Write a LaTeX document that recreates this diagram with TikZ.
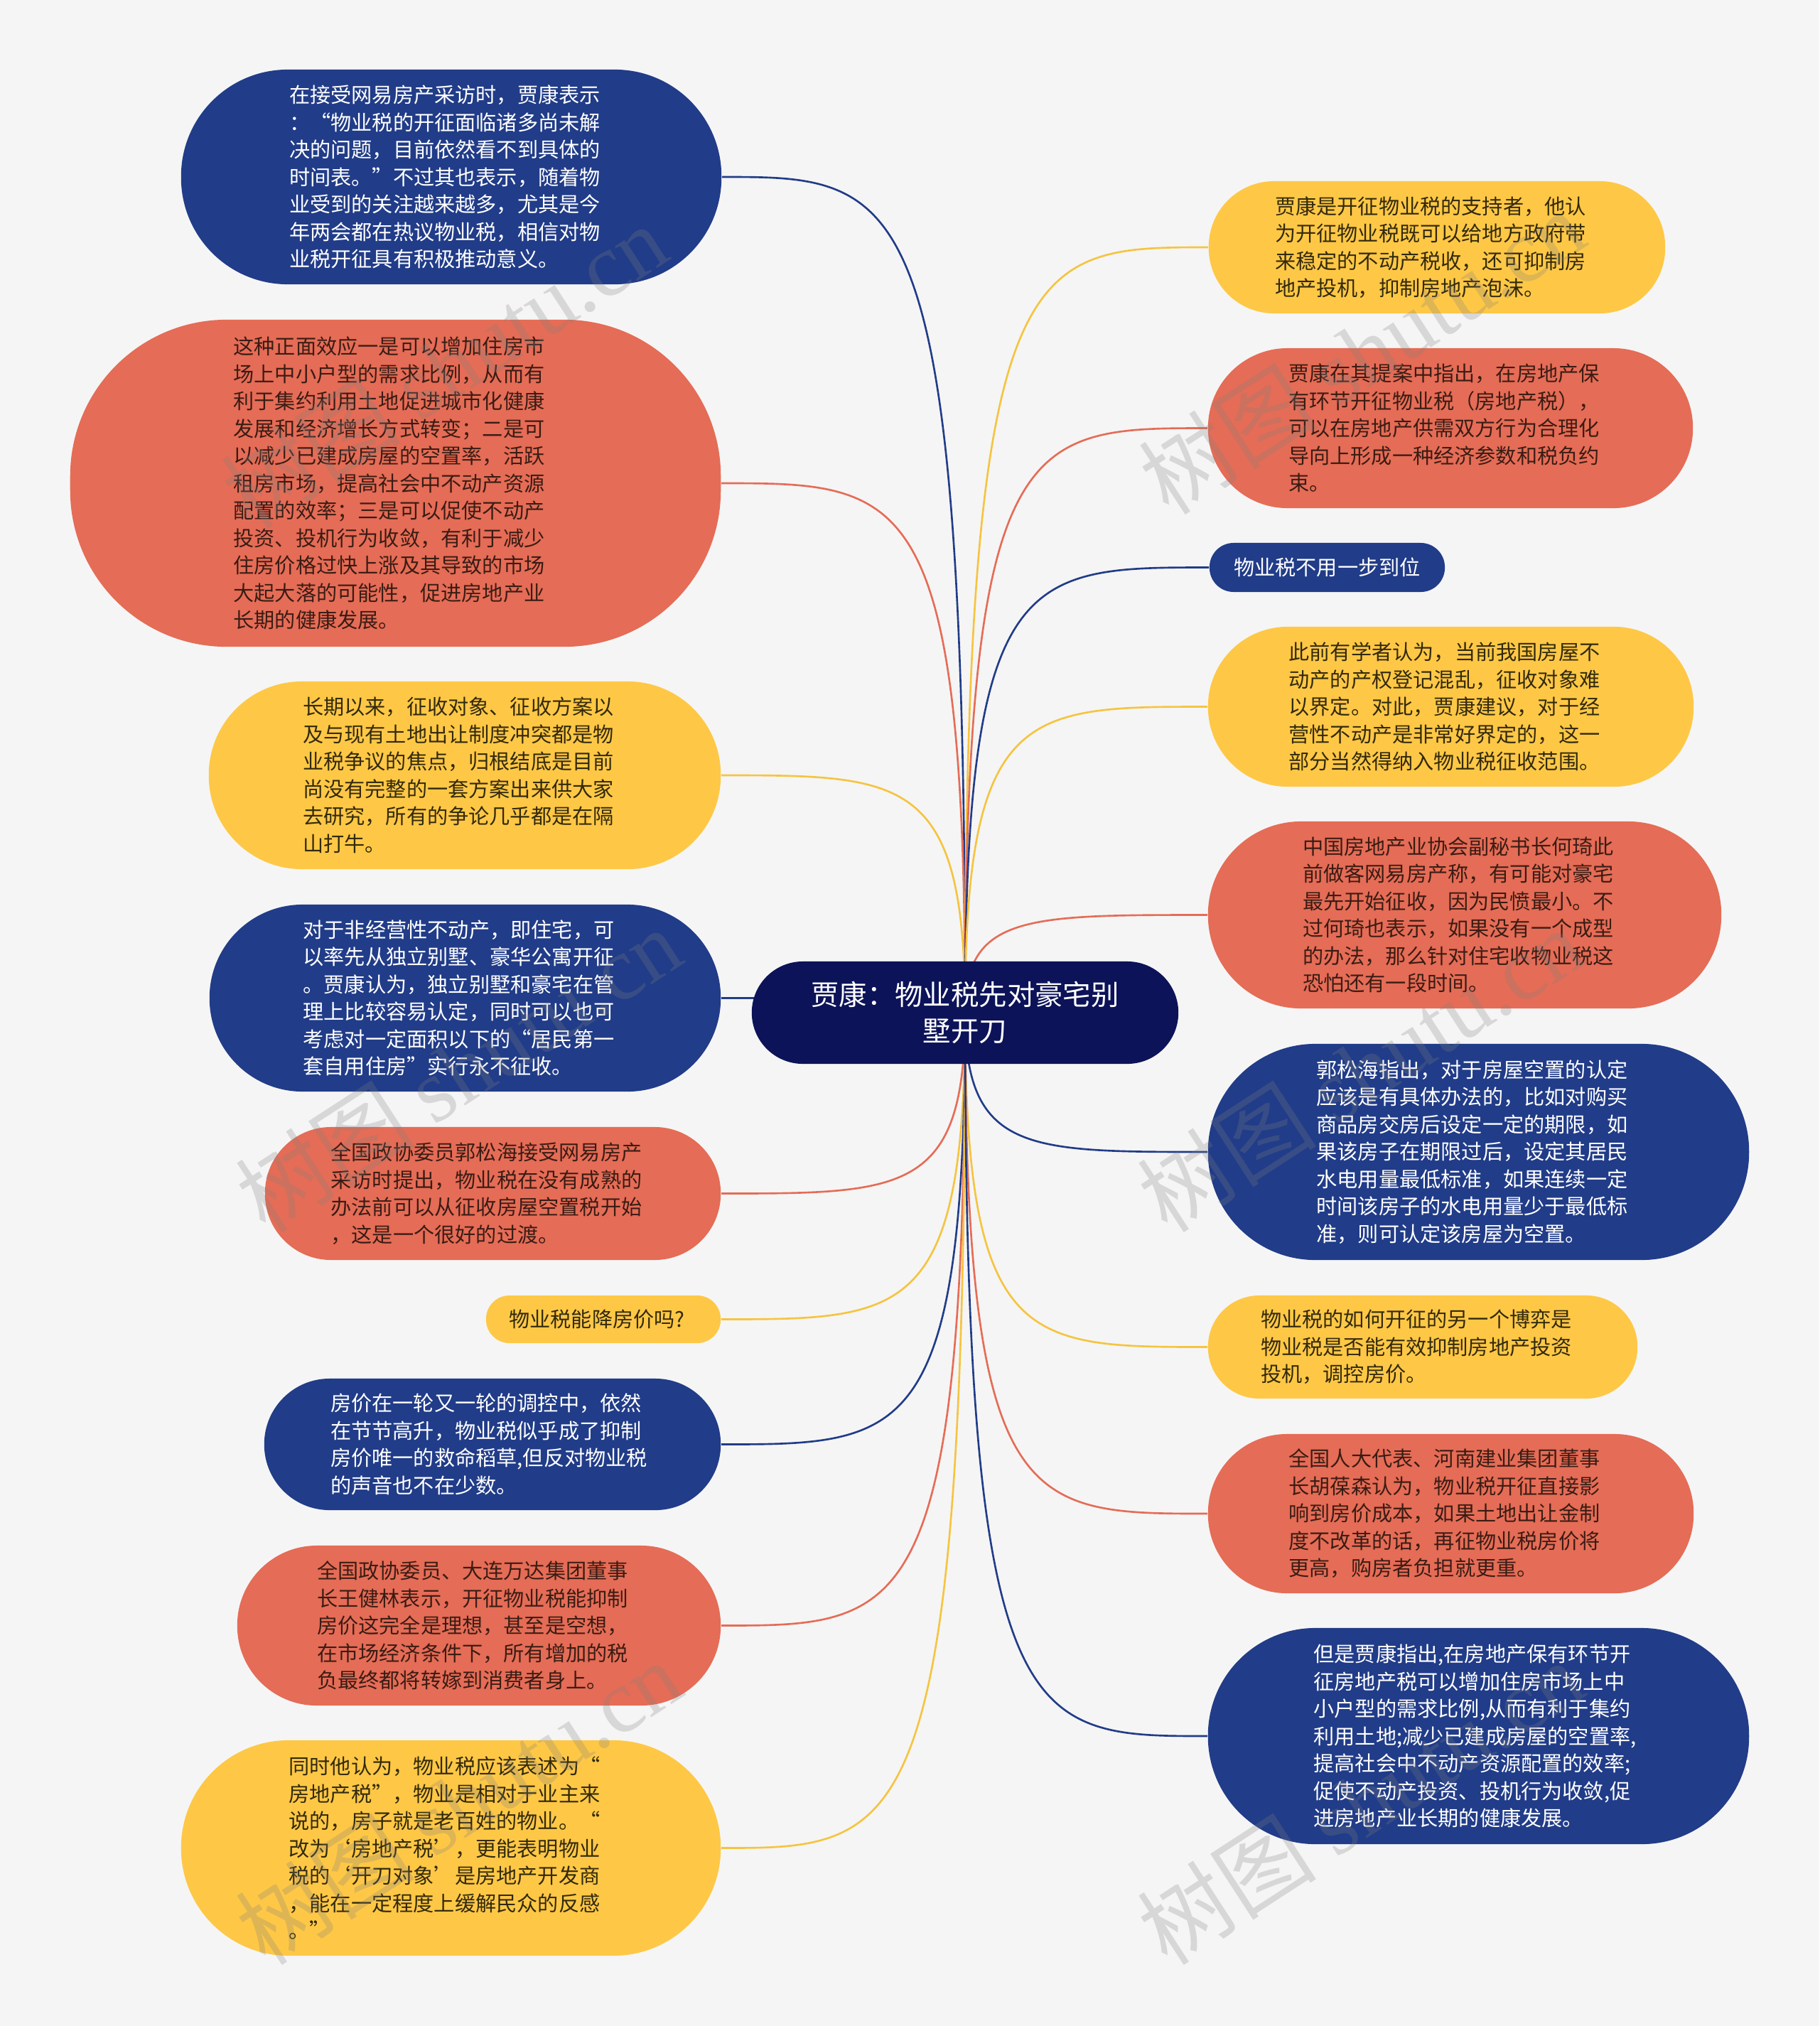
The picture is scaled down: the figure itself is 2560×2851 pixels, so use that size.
\documentclass[tikz,border=0pt]{standalone}
\usepackage{fontspec}
\setmainfont{Noto Sans CJK SC}
\newfontfamily\wmlatin{Liberation Serif}
\usetikzlibrary{calc}
\definecolor{cbg}{HTML}{F5F5F5}
\definecolor{cblue}{HTML}{213C88}
\definecolor{corange}{HTML}{E56C56}
\definecolor{cyellow}{HTML}{FEC846}
\definecolor{cnavy}{HTML}{0C1358}
\definecolor{torange}{HTML}{3A1C14}
\definecolor{tyellow}{HTML}{33290C}
\definecolor{lyellow}{HTML}{F5C440}
\pgfdeclarelayer{bg}\pgfdeclarelayer{fg}\pgfsetlayers{bg,main,fg}
\newcommand\bodyfont{\fontsize{8.3pt}{10.95pt}\selectfont}
\newcommand\ctrfont{\fontsize{11.2pt}{14.6pt}\selectfont}
\newcommand\wmfont{\fontsize{36pt}{36pt}\selectfont}
\newcommand\tsh{\hspace*{0.18cm}}
\newcommand\lnk[2]{\draw[linkline,#2] (c.center) .. controls (c.center |- #1) and ($(c.center |- #1)!0.25!(#1)$) .. (#1);}
\tikzset{
  bub/.style={rectangle, inner sep=0pt, align=left, font=\bodyfont},
  bblue/.style={bub, fill=cblue, text=white},
  borange/.style={bub, fill=corange, text=torange},
  byellow/.style={bub, fill=cyellow, text=tyellow},
  linkline/.style={line width=0.75pt},
  wm/.style={rotate=33, text=gray, opacity=0.25, font=\wmfont, inner sep=0pt}
}
\begin{document}
\begin{tikzpicture}[x=0.01cm,y=-0.01cm]
\useasboundingbox (0,0) rectangle (2560,2851);
\begin{pgfonlayer}{bg}
\fill[cbg] (0,0) rectangle (2560,2851);
\end{pgfonlayer}

\node[fill=cnavy, text=white, rounded corners=0.719cm, minimum width=6cm, minimum height=1.44cm, inner sep=0pt, align=center, font=\ctrfont] (c) at (1358,1425) {贾康：物业税先对豪宅别\\墅开刀};

% left column
\node[bblue, minimum width=7.60cm, minimum height=3.02cm, rounded corners=1.50cm] (l1) at (635,249) {在接受网易房产采访时，贾康表示\tsh\\：“物业税的开征面临诸多尚未解\\决的问题，目前依然看不到具体的\\时间表。”不过其也表示，随着物\\业受到的关注越来越多，尤其是今\\年两会都在热议物业税，相信对物\\业税开征具有积极推动意义。};
\node[borange, minimum width=9.15cm, minimum height=4.60cm, rounded corners=2.20cm] (l2) at (556.5,680) {这种正面效应一是可以增加住房市\tsh\\场上中小户型的需求比例，从而有\\利于集约利用土地促进城市化健康\\发展和经济增长方式转变；二是可\\以减少已建成房屋的空置率，活跃\\租房市场，提高社会中不动产资源\\配置的效率；三是可以促使不动产\\投资、投机行为收敛，有利于减少\\住房价格过快上涨及其导致的市场\\大起大落的可能性，促进房地产业\\长期的健康发展。};
\node[byellow, minimum width=7.20cm, minimum height=2.64cm, rounded corners=1.31cm] (l3) at (654,1091) {长期以来，征收对象、征收方案以\tsh\\及与现有土地出让制度冲突都是物\\业税争议的焦点，归根结底是目前\\尚没有完整的一套方案出来供大家\\去研究，所有的争论几乎都是在隔\\山打牛。};
\node[bblue, minimum width=7.19cm, minimum height=2.63cm, rounded corners=1.31cm] (l4) at (654.5,1404.5) {对于非经营性不动产，即住宅，可\tsh\\以率先从独立别墅、豪华公寓开征\\。贾康认为，独立别墅和豪宅在管\\理上比较容易认定，同时可以也可\\考虑对一定面积以下的“居民第一\\套自用住房”实行永不征收。};
\node[borange, minimum width=6.41cm, minimum height=1.87cm, rounded corners=0.93cm] (l5) at (693.5,1679.5) {全国政协委员郭松海接受网易房产\tsh\\采访时提出，物业税在没有成熟的\\办法前可以从征收房屋空置税开始\\，这是一个很好的过渡。};
\node[byellow, minimum width=3.30cm, minimum height=0.67cm, rounded corners=0.33cm] (l6) at (849,1856.5) {物业税能降房价吗?\tsh};
\node[bblue, minimum width=6.42cm, minimum height=1.85cm, rounded corners=0.92cm] (l7) at (693,2032.5) {房价在一轮又一轮的调控中，依然\tsh\\在节节高升，物业税似乎成了抑制\\房价唯一的救命稻草,但反对物业税\\的声音也不在少数。};
\node[borange, minimum width=6.80cm, minimum height=2.25cm, rounded corners=1.12cm] (l8) at (674,2287.5) {全国政协委员、大连万达集团董事\tsh\\长王健林表示，开征物业税能抑制\\房价这完全是理想，甚至是空想，\\在市场经济条件下，所有增加的税\\负最终都将转嫁到消费者身上。};
\node[byellow, minimum width=7.59cm, minimum height=3.03cm, rounded corners=1.51cm] (l9) at (634.5,2600.5) {同时他认为，物业税应该表述为“\tsh\\房地产税”，物业是相对于业主来\\说的，房子就是老百姓的物业。“\\改为‘房地产税’，更能表明物业\\税的‘开刀对象’是房地产开发商\\，能在一定程度上缓解民众的反感\\。”};

% right column
\node[byellow, minimum width=6.42cm, minimum height=1.86cm, rounded corners=0.92cm] (r1) at (2022,348) {贾康是开征物业税的支持者，他认\tsh\\为开征物业税既可以给地方政府带\\来稳定的不动产税收，还可抑制房\\地产投机，抑制房地产泡沫。};
\node[borange, minimum width=6.82cm, minimum height=2.25cm, rounded corners=1.12cm] (r2) at (2041,602.5) {贾康在其提案中指出，在房地产保\tsh\\有环节开征物业税（房地产税），\\可以在房地产供需双方行为合理化\\导向上形成一种经济参数和税负约\\束。};
\node[bblue, minimum width=3.31cm, minimum height=0.69cm, rounded corners=0.34cm] (r3) at (1867.5,798.5) {物业税不用一步到位};
\node[byellow, minimum width=6.83cm, minimum height=2.25cm, rounded corners=1.12cm] (r4) at (2041.5,994.5) {此前有学者认为，当前我国房屋不\tsh\\动产的产权登记混乱，征收对象难\\以界定。对此，贾康建议，对于经\\营性不动产是非常好界定的，这一\\部分当然得纳入物业税征收范围。};
\node[borange, minimum width=7.22cm, minimum height=2.63cm, rounded corners=1.31cm] (r5) at (2061,1287.5) {中国房地产业协会副秘书长何琦此\tsh\\前做客网易房产称，有可能对豪宅\\最先开始征收，因为民愤最小。不\\过何琦也表示，如果没有一个成型\\的办法，那么针对住宅收物业税这\\恐怕还有一段时间。};
\node[bblue, minimum width=7.61cm, minimum height=3.04cm, rounded corners=1.51cm] (r6) at (2080.5,1621) {郭松海指出，对于房屋空置的认定\tsh\\应该是有具体办法的，比如对购买\\商品房交房后设定一定的期限，如\\果该房子在期限过后，设定其居民\\水电用量最低标准，如果连续一定\\时间该房子的水电用量少于最低标\\准，则可认定该房屋为空置。};
\node[byellow, minimum width=6.04cm, minimum height=1.45cm, rounded corners=0.72cm] (r7) at (2002,1895.5) {物业税的如何开征的另一个博弈是\tsh\\物业税是否能有效抑制房地产投资\\投机，调控房价。};
\node[borange, minimum width=6.83cm, minimum height=2.24cm, rounded corners=1.11cm] (r8) at (2041.5,2130) {全国人大代表、河南建业集团董事\tsh\\长胡葆森认为，物业税开征直接影\\响到房价成本，如果土地出让金制\\度不改革的话，再征物业税房价将\\更高，购房者负担就更重。};
\node[bblue, minimum width=7.61cm, minimum height=3.04cm, rounded corners=1.51cm] (r9) at (2080.5,2443) {但是贾康指出,在房地产保有环节开\tsh\\征房地产税可以增加住房市场上中\\小户型的需求比例,从而有利于集约\\利用土地;减少已建成房屋的空置率,\\提高社会中不动产资源配置的效率;\\促使不动产投资、投机行为收敛,促\\进房地产业长期的健康发展。};

\begin{pgfonlayer}{bg}
\lnk{l1.east}{cblue}
\lnk{l2.east}{corange}
\lnk{l3.east}{lyellow}
\lnk{l4.east}{cblue}
\lnk{l5.east}{corange}
\lnk{l6.east}{lyellow}
\lnk{l7.east}{cblue}
\lnk{l8.east}{corange}
\lnk{l9.east}{lyellow}
\lnk{r1.west}{lyellow}
\lnk{r2.west}{corange}
\lnk{r3.west}{cblue}
\lnk{r4.west}{lyellow}
\lnk{r5.west}{corange}
\lnk{r6.west}{cblue}
\lnk{r7.west}{lyellow}
\lnk{r8.west}{corange}
\lnk{r9.west}{cblue}
\end{pgfonlayer}

\begin{pgfonlayer}{fg}
\node[wm] (wm1) at (625,515) {树图 {\wmlatin shutu.cn}};
\node[wm] (wm2) at (1916,495) {树图 {\wmlatin shutu.cn}};
\node[wm] (wm3) at (645,1505) {树图 {\wmlatin shutu.cn}};
\node[wm] (wm4) at (1914,1505) {树图 {\wmlatin shutu.cn}};
\node[wm] (wm5) at (645,2536) {树图 {\wmlatin shutu.cn}};
\node[wm] (wm6) at (1914,2536) {树图 {\wmlatin shutu.cn}};
\end{pgfonlayer}
\end{tikzpicture}
\end{document}
